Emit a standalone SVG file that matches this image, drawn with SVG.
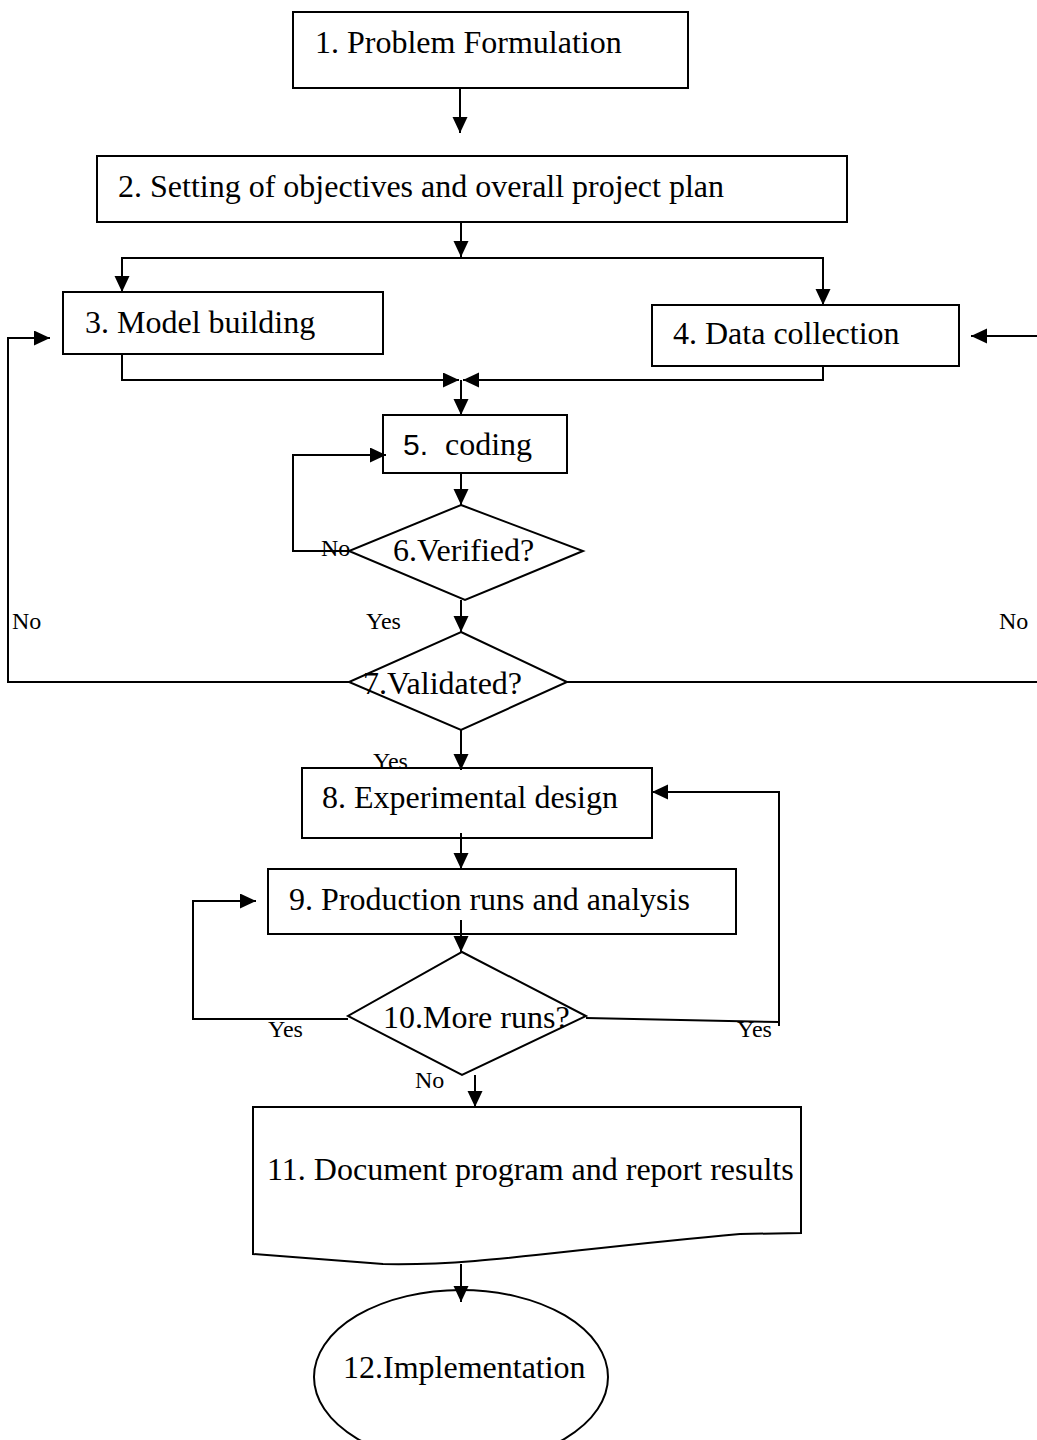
<svg xmlns="http://www.w3.org/2000/svg" width="1037" height="1440" viewBox="0 0 1037 1440">
<style>
.n{fill:#fff;stroke:#000;stroke-width:2}
.t{font-family:"Liberation Serif","Times New Roman",serif;font-size:32px;fill:#000}
.s{font-family:"Liberation Serif","Times New Roman",serif;font-size:24px;fill:#000}
.c{fill:none;stroke:#000;stroke-width:2}
</style>
<defs>
<marker id="ah" markerUnits="userSpaceOnUse" markerWidth="18" markerHeight="16" refX="16" refY="7.5" orient="auto">
<path d="M0,0 L16,7.5 L0,15 Z" fill="#000"/>
</marker>
</defs>
<rect width="1037" height="1440" fill="#fff"/>
<g id="n1"><rect class="n" x="293" y="12" width="395" height="76"/><text class="t" x="315" y="53">1. Problem Formulation</text></g>
<g id="n2"><rect class="n" x="97" y="156" width="750" height="66"/><text class="t" x="118" y="197">2. Setting of objectives and overall project plan</text></g>
<g id="n3"><rect class="n" x="63" y="292" width="320" height="62"/><text class="t" x="85" y="333">3. Model building</text></g>
<g id="n4"><rect class="n" x="652" y="305" width="307" height="61"/><text class="t" x="673" y="344">4. Data collection</text></g>
<g id="n5"><rect class="n" x="383" y="415" width="184" height="58"/><text class="t" x="403" y="455"><tspan font-family="'Liberation Sans',Arial,sans-serif" font-size="30">5.</tspan><tspan x="445">coding</tspan></text></g>
<g id="n6"><polygon class="n" points="461,505 583,551 465,600 349,551"/><text class="t" x="393" y="561">6.Verified?</text></g>
<g id="n7"><polygon class="n" points="461,632 567,682 461,730 349,682"/><text class="t" x="363" y="694">7.Validated?</text></g>
<g id="n8"><rect class="n" x="302" y="768" width="350" height="70"/><text class="t" x="322" y="808">8. Experimental design</text></g>
<g id="n9"><rect class="n" x="268" y="869" width="468" height="65"/><text class="t" x="289" y="910">9. Production runs and analysis</text></g>
<g id="n10"><polygon class="n" points="462,952 586,1016 462,1075 348,1016"/><text class="t" x="383" y="1028">10.More runs?</text></g>
<g id="n11"><path class="n" d="M253,1107 H801 V1233 L740,1234 C560,1250 480,1266 383,1264 L253,1254 Z"/><text class="t" x="267" y="1180">11. Document program and report results</text></g>
<g id="n12"><ellipse class="n" cx="461" cy="1377" rx="147" ry="87"/><text class="t" x="343" y="1378">12.Implementation</text></g>
<g id="connectors">
<path class="c" d="M460,88 V133" marker-end="url(#ah)"/>
<path class="c" d="M461,222 V257" marker-end="url(#ah)"/>
<path class="c" d="M461,258 H122 V292" marker-end="url(#ah)"/>
<path class="c" d="M461,258 H823 V305" marker-end="url(#ah)"/>
<path class="c" d="M122,354 V380 H459" marker-end="url(#ah)"/>
<path class="c" d="M823,366 V380 H463" marker-end="url(#ah)"/>
<path class="c" d="M461,380 V415" marker-end="url(#ah)"/>
<path class="c" d="M461,473 V505" marker-end="url(#ah)"/>
<path class="c" d="M349,551 H293 V455 H386" marker-end="url(#ah)"/>
<path class="c" d="M461,600 V632" marker-end="url(#ah)"/>
<path class="c" d="M349,682 H8 V338 H50" marker-end="url(#ah)"/>
<path class="c" d="M567,682 H1039 V336 H971" marker-end="url(#ah)"/>
<path class="c" d="M461,730 V770" marker-end="url(#ah)"/>
<path class="c" d="M779,1026 V792 H652" marker-end="url(#ah)"/>
<path class="c" d="M586,1018 L779,1022"/>
<path class="c" d="M461,833 V869" marker-end="url(#ah)"/>
<path class="c" d="M461,920 V952" marker-end="url(#ah)"/>
<path class="c" d="M348,1019 H193 V901 H256" marker-end="url(#ah)"/>
<path class="c" d="M475,1075 V1107" marker-end="url(#ah)"/>
<path class="c" d="M461,1264 V1302" marker-end="url(#ah)"/>
</g>
<g id="labels">
<text class="s" x="321" y="556">No</text>
<text class="s" x="366" y="629">Yes</text>
<text class="s" x="12" y="629">No</text>
<text class="s" x="999" y="629">No</text>
<text class="s" x="373" y="769">Yes</text>
<text class="s" x="268" y="1037">Yes</text>
<text class="s" x="737" y="1037">Yes</text>
<text class="s" x="415" y="1088">No</text>
</g>
</svg>
